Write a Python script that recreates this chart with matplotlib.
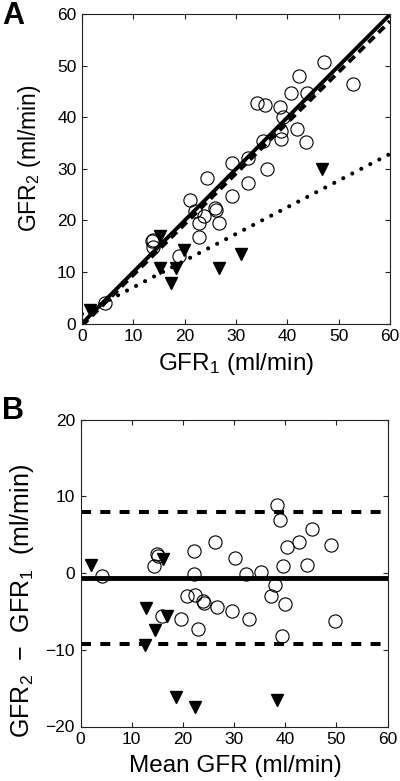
import matplotlib
matplotlib.use("Agg")
import matplotlib.pyplot as plt
import numpy as np

plt.rcParams['font.family'] = ['Liberation Sans', 'DejaVu Sans']
plt.rcParams['mathtext.fontset'] = 'custom'
plt.rcParams['mathtext.rm'] = 'Liberation Sans'
plt.rcParams['mathtext.it'] = 'Liberation Sans:italic'
plt.rcParams['lines.scale_dashes'] = False

# ---------------- Panel A data ----------------
circ_gfr1 = [47.2, 52.7, 42.3, 40.8, 43.8, 34.0, 35.7, 38.6, 39.2, 41.9, 38.8,
             38.8, 35.2, 43.6, 32.4, 29.3, 36.0, 24.3, 32.4, 29.2, 21.0, 22.1,
             23.8, 26.0, 26.2, 22.7, 26.7, 22.7, 13.6, 13.9, 13.9, 18.8, 4.5]
circ_gfr2 = [50.8, 46.5, 48.1, 44.8, 44.8, 42.9, 42.4, 42.0, 40.0, 37.7, 37.4,
             35.8, 35.5, 35.3, 32.2, 31.2, 30.0, 28.3, 27.2, 24.8, 24.0, 21.8,
             20.9, 22.4, 22.0, 19.5, 19.5, 16.7, 16.1, 16.2, 14.8, 13.1, 4.0]
tri_gfr1 = [1.6, 15.2, 19.9, 31.0, 15.1, 18.3, 26.7, 17.3, 46.7]
tri_gfr2 = [2.6, 17.0, 14.3, 13.5, 10.7, 10.7, 10.7, 7.9, 30.0]

identity_slope, identity_icpt = 1.0, 0.0
circ_fit_slope, circ_fit_icpt = 0.985, -0.4
tri_fit_slope, tri_fit_icpt = 0.518, 1.85

# ---------------- Panel B data ----------------
circ_mean = [4.2, 14.9, 15.1, 14.3, 22.1, 22.1, 26.2, 30.1, 20.9, 22.4, 24.0,
             24.2, 26.7, 29.7, 32.9, 38.5, 39.0, 45.2, 42.8, 40.3, 49.0, 39.5,
             44.2, 32.3, 35.3, 38.0, 37.2, 39.9, 15.9, 19.7, 22.9, 39.3, 49.7]
circ_diff = [-0.44, 2.48, 2.26, 0.87, 2.82, -0.1, 4.05, 1.95, -3.05, -2.9, -3.7,
             -3.9, -4.4, -5.0, -5.97, 8.9, 6.96, 5.74, 4.04, 3.35, 3.7, 0.87,
             1.08, -0.13, 0.13, -1.55, -3.05, -4.1, -5.66, -5.97, -7.27, -8.27, -6.3]
tri_mean = [2.1, 16.2, 12.8, 17.0, 14.5, 12.6, 18.7, 22.3, 38.5]
tri_diff = [1.08, 1.83, -4.57, -5.54, -7.49, -9.36, -16.2, -17.5, -16.6]

mean_bias = -0.65
upper_loa = 7.95
lower_loa = -9.25

ticks_A = [0, 10, 20, 30, 40, 50, 60]
ticks_B_y = [-20, -10, 0, 10, 20]

fig = plt.figure(figsize=(4.0, 7.81), dpi=100)
W, H = 400.0, 781.0
axA = fig.add_axes([82 / W, 1 - 323.5 / H, 308 / W, 309 / H])
axB = fig.add_axes([80.5 / W, 1 - 726.5 / H, 307 / W, 307 / H])

tick_fs = 12.5
label_fs = 17.5

for ax in (axA, axB):
    for s in ax.spines.values():
        s.set_linewidth(0.8)
        s.set_color('#222222')
    ax.tick_params(direction='in', length=3.5, width=0.8, top=True, right=True,
                   labelsize=tick_fs, pad=4, color='#222222')

# Panel A
xx = np.array([0, 60])
axA.plot(circ_gfr1, circ_gfr2, 'o', mfc='none', mec='black', ms=9.5, mew=0.8,
         zorder=3)
axA.plot(tri_gfr1, tri_gfr2, 'v', color='black', ms=9, zorder=4)
axA.plot(xx, identity_slope * xx + identity_icpt, '-', color='black', lw=2.8,
         zorder=2, solid_capstyle='butt')
axA.plot(xx, circ_fit_slope * xx + circ_fit_icpt, color='black', lw=2.8,
         linestyle=(0, (6, 4)), zorder=2)
axA.plot(xx, tri_fit_slope * xx + tri_fit_icpt, color='black', lw=3.0,
         linestyle=(0, (0.01, 7.3)), dash_capstyle='round', zorder=2)
axA.set_xlim(0, 60)
axA.set_ylim(0, 60)
axA.set_xticks(ticks_A)
axA.set_yticks(ticks_A)
axA.set_xlabel(r'GFR$_{\mathrm{1}}$ (ml/min)', fontsize=label_fs)
axA.xaxis.set_label_coords(0.5, -0.090)

# Panel B
axB.plot(circ_mean, circ_diff, 'o', mfc='none', mec='black', ms=9.5, mew=0.8,
         zorder=3)
axB.plot(tri_mean, tri_diff, 'v', color='black', ms=9, zorder=4)
axB.axhline(mean_bias, color='black', lw=3.5, zorder=2)
axB.axhline(upper_loa, color='black', lw=2.9, linestyle=(0, (7.2, 6.7)), zorder=2)
axB.axhline(lower_loa, color='black', lw=2.9, linestyle=(0, (7.2, 6.7)), zorder=2)
axB.set_xlim(0, 60)
axB.set_ylim(-20, 20)
axB.set_xticks(ticks_A)
axB.set_yticks(ticks_B_y)
axB.set_xlabel('Mean GFR (ml/min)', fontsize=label_fs)
axB.xaxis.set_label_coords(0.503, -0.094)

# y labels placed by their bounding-box centre
fig.text(30 / W, 1 - 158 / H, r'GFR$_{\mathrm{2}}$ (ml/min)', fontsize=16.5,
         rotation=90, ha='center', va='center')
fig.text(22 / W, 1 - 601 / H, r'GFR$_{\mathrm{2}}$  −  GFR$_{\mathrm{1}}$  (ml/min)',
         fontsize=18, rotation=90, ha='center', va='center')

fig.text(2 / W, 1 - 1 / H, 'A', fontsize=22, fontweight='bold', ha='left', va='top')
fig.text(2 / W, 1 - 396 / H, 'B', fontsize=22, fontweight='bold', ha='left', va='top')

fig.savefig('out.png', dpi=100)
